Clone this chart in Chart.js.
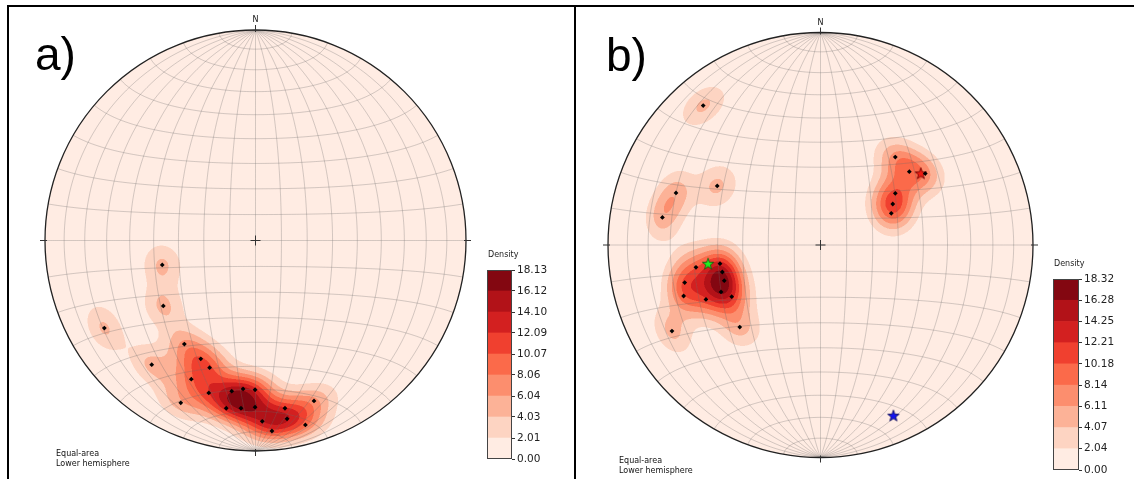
<!DOCTYPE html>
<html><head><meta charset="utf-8">
<script src="https://cdn.jsdelivr.net/npm/chart.js@4.4.1/dist/chart.umd.min.js"></script>
<style>
html,body{margin:0;padding:0;background:#fff;}
body{width:1134px;height:479px;position:relative;overflow:hidden;}
.box{position:absolute;}
.line{position:absolute;background:#000;}
</style></head><body>
<div class="line" style="left:7px;top:5px;width:1127px;height:2px"></div>
<div class="line" style="left:7px;top:5px;width:2px;height:474px"></div>
<div class="line" style="left:574px;top:5px;width:2px;height:474px"></div>
<div class="box" style="left:9px;top:7px;width:565px;height:472px"><canvas id="netA"></canvas></div>
<div class="box" style="left:576px;top:7px;width:558px;height:472px"><canvas id="netB"></canvas></div>
<div class="box" style="left:480px;top:245px;width:75px;height:225px"><canvas id="cbA"></canvas></div>
<div class="box" style="left:1046px;top:254px;width:88px;height:225px"><canvas id="cbB"></canvas></div>
<script>
// ---------------- data (normalised equal-area coordinates) -------------
const polesAX=[-0.338,-0.493,-0.260,-0.218,-0.305,-0.222,-0.355,-0.113,-0.059,-0.002,-0.139,-0.069,-0.002,0.032,0.078,0.140,0.150,0.237,0.278,-0.443,-0.438,-0.718];
const polesAY=[-0.492,-0.590,-0.562,-0.604,-0.659,-0.724,-0.771,-0.716,-0.705,-0.709,-0.797,-0.797,-0.792,-0.859,-0.905,-0.797,-0.847,-0.876,-0.762,-0.116,-0.311,-0.416];
const polesBX=[-0.552,-0.680,-0.744,-0.486,-0.586,-0.473,-0.462,-0.453,-0.639,-0.468,-0.644,-0.539,-0.418,-0.699,-0.380,0.352,0.418,0.493,0.352,0.340,0.333];
const polesBY=[0.656,0.245,0.130,0.278,-0.105,-0.088,-0.127,-0.168,-0.177,-0.221,-0.240,-0.256,-0.243,-0.405,-0.386,0.414,0.345,0.336,0.243,0.193,0.149];
const starsBX=[-0.529,0.472,0.343];
const starsBY=[-0.088,0.337,-0.803];
const starNames=['green','red','blue'];
const levelLabelsA=['0.00','2.01','4.03','6.04','8.06','10.07','12.09','14.10','16.12','18.13'];
const levelLabelsB=['0.00','2.04','4.07','6.11','8.14','10.18','12.21','14.25','16.28','18.32'];
const panelLabels=['a)','b)'];
const noteLines=['Equal-area','Lower hemisphere'];
// ---------------------------------------------------------------------------------------------

const D2R=Math.PI/180;
const FONT='"DejaVu Sans", sans-serif';
const REDS=[[255,245,240],[254,224,210],[252,187,161],[252,146,114],[251,106,74],[239,59,44],[203,24,29],[165,15,21],[103,0,13]];
function reds(t){const s=t*8;const i=Math.min(7,Math.floor(s));const f=s-i;const a=REDS[i],b=REDS[i+1];return [0,1,2].map(k=>Math.round(a[k]+(b[k]-a[k])*f));}
const bandRGB=[...Array(9)].map((_,i)=>reds((i+0.5)/9));
const bandCSS=bandRGB.map(c=>`rgb(${c[0]},${c[1]},${c[2]})`);

function toVec(u,v){const r=Math.min(1,Math.hypot(u,v));if(r<1e-9)return[0,0,-1];const a=2*Math.asin(r/Math.SQRT2);const s=Math.sin(a);return[s*u/r,s*v/r,-Math.cos(a)];}
const KF=100;
function buildDensity(chart,px,py,levels){
  const a=chart.chartArea,sx=chart.scales.x,sy=chart.scales.y;
  const SS=2,W=Math.round(a.width*SS),H=Math.round(a.height*SS);
  const pts=px.map((u,i)=>toVec(u,py[i]));
  const vals=new Float32Array(W*H);let mx=0;
  for(let j=0;j<H;j++){const v=sy.getValueForPixel(a.top+(j+0.5)/SS);
    for(let i=0;i<W;i++){const u=sx.getValueForPixel(a.left+(i+0.5)/SS);const idx=j*W+i;
      if(u*u+v*v>1.03){vals[idx]=-1;continue;}
      const p=toVec(u,v);let d=0;
      for(const q of pts){const c=Math.abs(p[0]*q[0]+p[1]*q[1]+p[2]*q[2]);d+=Math.exp(KF*(c-1));}
      vals[idx]=d;if(d>mx)mx=d;}}
  const sc=levels[9]/mx;
  const cv=document.createElement('canvas');cv.width=W;cv.height=H;const g=cv.getContext('2d');const img=g.createImageData(W,H);
  for(let k=0;k<W*H;k++){const o=k*4;if(vals[k]<0){img.data[o+3]=0;continue;}
    const D=vals[k]*sc;let b=0;while(b<8&&D>levels[b+1])b++;
    const c=bandRGB[b];img.data[o]=c[0];img.data[o+1]=c[1];img.data[o+2]=c[2];img.data[o+3]=255;}
  g.putImageData(img,0,0);return cv;
}
function proj(lon,lat){const L=lon*D2R,P=lat*D2R;const k=Math.sqrt(2/(1+Math.cos(P)*Math.cos(L)));return[k*Math.cos(P)*Math.sin(L)/Math.SQRT2,k*Math.sin(P)/Math.SQRT2];}

function makeStar(fill,stroke){const c=document.createElement('canvas');c.width=14;c.height=14;const g=c.getContext('2d');
  g.beginPath();for(let i=0;i<10;i++){const r=i%2?2.4:6;const t=-Math.PI/2+i*Math.PI/5;g.lineTo(7+r*Math.cos(t),7.4+r*Math.sin(t));}
  g.closePath();g.fillStyle=fill;g.fill();g.lineWidth=0.8;g.strokeStyle=stroke;g.stroke();return c;}
const starImgs=[makeStar('#22f022','#0a5a0a'),makeStar('#f01e14','#600'),makeStar('#1414f0','#000050')];

const netPlugin={id:'net',
  beforeDatasetsDraw(chart){
    const o=chart.options.plugins.net;const{ctx,chartArea:a,scales:{x,y}}=chart;
    const cx=x.getPixelForValue(0),cy=y.getPixelForValue(0),R=x.getPixelForValue(1)-cx;
    if(!chart.$dens)chart.$dens=buildDensity(chart,o.px,o.py,o.levels);
    ctx.save();ctx.beginPath();ctx.arc(cx,cy,R,0,2*Math.PI);ctx.clip();
    ctx.imageSmoothingEnabled=true;ctx.drawImage(chart.$dens,a.left,a.top,a.width,a.height);
    ctx.strokeStyle='rgba(110,110,110,0.30)';ctx.lineWidth=1;
    for(let lon=-80;lon<=80;lon+=10){ctx.beginPath();for(let lat=-90;lat<=90;lat+=1){const p=proj(lon,lat);ctx.lineTo(x.getPixelForValue(p[0]),y.getPixelForValue(p[1]));}ctx.stroke();}
    for(let lat=-80;lat<=80;lat+=10){ctx.beginPath();for(let lon=-90;lon<=90;lon+=1){const p=proj(lon,lat);ctx.lineTo(x.getPixelForValue(p[0]),y.getPixelForValue(p[1]));}ctx.stroke();}
    ctx.restore();
    ctx.save();ctx.strokeStyle='#222';ctx.lineWidth=1.3;ctx.beginPath();ctx.arc(cx,cy,R,0,2*Math.PI);ctx.stroke();
    ctx.lineWidth=1;ctx.strokeStyle='#333';
    [[0,-1],[1,0],[0,1],[-1,0]].forEach(([dx,dy])=>{ctx.beginPath();ctx.moveTo(cx+dx*(R-2),cy+dy*(R-2));ctx.lineTo(cx+dx*(R+5),cy+dy*(R+5));ctx.stroke();});
    ctx.beginPath();ctx.moveTo(cx-5,cy);ctx.lineTo(cx+5,cy);ctx.moveTo(cx,cy-5);ctx.lineTo(cx,cy+5);ctx.stroke();
    ctx.fillStyle='#111';ctx.font='8px '+FONT;ctx.textAlign='center';ctx.textBaseline='middle';ctx.fillText('N',cx,cy-R-10);
    ctx.textAlign='left';ctx.fillText(noteLines[0],o.noteX,o.noteY);ctx.fillText(noteLines[1],o.noteX,o.noteY+9.5);
    ctx.font='46px "Liberation Sans", Arial, sans-serif';ctx.textBaseline='alphabetic';ctx.fillStyle='#000';ctx.fillText(o.label,o.labX,o.labY);
    ctx.restore();
  }};

function netChart(id,px,py,levels,pad,opts,extra){
  const ds=[{data:px.map((u,i)=>({x:u,y:py[i]})),pointStyle:'rectRot',pointRadius:2.4,backgroundColor:'#000',borderColor:'#000',borderWidth:0}];
  if(extra)extra.forEach(e=>ds.push(e));
  return new Chart(document.getElementById(id),{type:'scatter',data:{datasets:ds},
    options:{responsive:true,maintainAspectRatio:false,animation:false,devicePixelRatio:1,
      layout:{padding:pad},events:[],
      scales:{x:{type:'linear',min:-1,max:1,display:false},y:{type:'linear',min:-1,max:1,display:false}},
      plugins:{legend:{display:false},tooltip:{enabled:false},net:Object.assign({px,py,levels},opts)}},
    plugins:[netPlugin]});
}
const levelsA=levelLabelsA.map(Number),levelsB=levelLabelsB.map(Number);
netChart('netA',polesAX,polesAY,levelsA,{left:36,right:108,top:23,bottom:28},{label:panelLabels[0],labX:26,labY:63,noteX:47,noteY:447});
const starDs=starsBX.map((u,i)=>({data:[{x:u,y:starsBY[i]}],pointStyle:starImgs[i],pointRadius:7,label:starNames[i]}));
netChart('netB',polesBX,polesBY,levelsB,{left:32,right:101,top:25.5,bottom:21.5},{label:panelLabels[1],labX:30,labY:64,noteX:43,noteY:454},starDs);

const cbPlugin={id:'cb',afterDraw(chart){const{ctx,chartArea:a}=chart;ctx.save();ctx.strokeStyle='#444';ctx.lineWidth=1;
  ctx.strokeRect(Math.round(a.left)+0.5,Math.round(a.top)+0.5,Math.round(a.width)-1,Math.round(a.height)-1);
  ctx.fillStyle='#222';ctx.font='8px '+FONT;ctx.textBaseline='middle';ctx.textAlign='left';ctx.fillText('Density',a.left+1,a.top-15);ctx.restore();}};
function colorbar(id,levels,labels,axisW,padB){
  const ds=bandCSS.map((c,i)=>({data:[levels[i+1]-levels[i]],backgroundColor:c,borderWidth:0,barPercentage:1,categoryPercentage:1}));
  return new Chart(document.getElementById(id),{type:'bar',data:{labels:[''],datasets:ds},
    options:{responsive:true,maintainAspectRatio:false,animation:false,devicePixelRatio:1,events:[],
      layout:{padding:{left:7,top:25,bottom:padB,right:0}},
      scales:{x:{display:false,stacked:true},
        y:{stacked:true,position:'right',min:0,max:levels[9],
          afterBuildTicks:s=>{s.ticks=levels.map(v=>({value:v}));},
          afterFit:s=>{s.width=axisW;},
          ticks:{callback:(v,i)=>labels[i],font:{size:10.5,family:'DejaVu Sans'},color:'#222',padding:2,autoSkip:false},
          grid:{drawOnChartArea:false,tickLength:3,color:'#333'},border:{display:false}}},
      plugins:{legend:{display:false},tooltip:{enabled:false}}},
    plugins:[cbPlugin]});
}
colorbar('cbA',levelsA,levelLabelsA,43,11);
colorbar('cbB',levelsB,levelLabelsB,55,9);
</script></body></html>
